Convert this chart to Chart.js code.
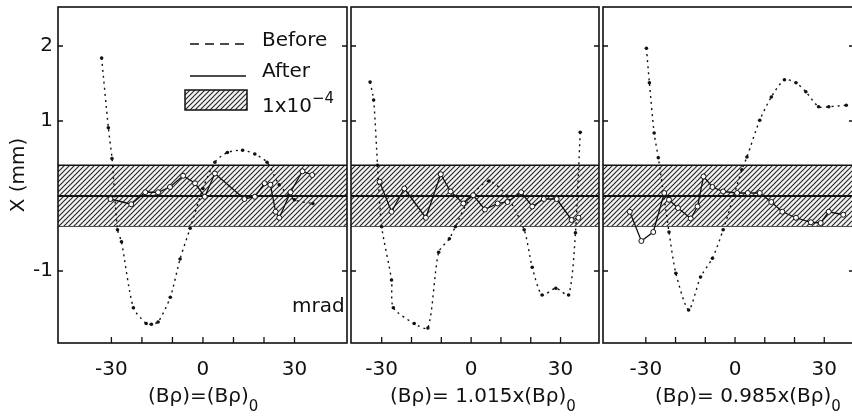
<!DOCTYPE html>
<html>
<head>
<meta charset="utf-8">
<script src="https://cdn.jsdelivr.net/npm/chart.js@4.4.1/dist/chart.umd.min.js"></script>
<style>
  html, body { margin: 0; padding: 0; background: #fff; }
  body { width: 852px; height: 419px; position: relative; overflow: hidden;
         font-family: "DejaVu Sans", sans-serif; color: #111; }
  canvas { position: absolute; top: 0; }
  .lbl { position: absolute; font-size: 20px; line-height: 20px; white-space: nowrap; }
  .lbl sub { font-size: 15px; vertical-align: -9px; line-height: 0; }
  .lbl sup { font-size: 15px; vertical-align: 9px; line-height: 0; }
</style>
</head>
<body>
<canvas id="p1" width="352" height="419" style="left:0px"></canvas>
<canvas id="p2" width="258" height="419" style="left:346px"></canvas>
<canvas id="p3" width="261" height="419" style="left:598px"></canvas>

<div class="lbl" style="left:262px; top:29px">Before</div>
<div class="lbl" style="left:262px; top:60px">After</div>
<div class="lbl" style="left:262px; top:95px">1x10<sup>−4</sup></div>
<div class="lbl" style="left:292px; top:295px">mrad</div>
<div class="lbl" style="left:148px; top:385px">(Bρ)=(Bρ)<sub>0</sub></div>
<div class="lbl" style="left:390px; top:385px">(Bρ)= 1.015x(Bρ)<sub>0</sub></div>
<div class="lbl" style="left:655px; top:385px">(Bρ)= 0.985x(Bρ)<sub>0</sub></div>

<script>
"use strict";

// ── Data ────────────────────────────────────────────────
const yRange = [-1.96, 2.52];
const yTickVals = [-1, 1, 2];
const xTickLabelVals = [-30, 0, 30];
const xMinorTicks = [-30, -20, -10, 0, 10, 20, 30];
const bandLimits = [-0.40, 0.41];   // 1x10^-4 band
const panelRanges = [[-47.5, 47.2], [-40.3, 42.9], [-44.4, 40.0]];

// (Bρ) = (Bρ)0
const p1BeforeX = [-33.2, -31, -29.8, -28, -26.7, -22.8, -18.6, -16.9, -14.7, -10.7, -7.5, -4.2, 0, 3.9, 8, 13, 17, 21, 25, 30, 36];
const p1BeforeY = [1.84, 0.91, 0.5, -0.45, -0.61, -1.49, -1.70, -1.71, -1.68, -1.35, -0.84, -0.43, 0.1, 0.45, 0.58, 0.61, 0.56, 0.45, 0.15, -0.05, -0.1];
const p1AfterX = [-30.3, -23.5, -18.9, -14.7, -10.8, -6.5, -2.6, 0.6, 3.9, 13.6, 17, 20.2, 22.1, 23.8, 25, 28.7, 32.6, 35.8];
const p1AfterY = [-0.04, -0.11, 0.05, 0.05, 0.12, 0.27, 0.17, -0.01, 0.30, -0.04, -0.01, 0.17, 0.15, -0.21, -0.29, 0.05, 0.33, 0.28];

// (Bρ) = 1.015 x (Bρ)0
const p2BeforeX = [-33.9, -32.7, -31.4, -30, -26.7, -26.1, -19.1, -14.5, -10.9, -7.3, -5.3, 0, 6, 12, 17.8, 20.5, 23.8, 28.4, 32.7, 35, 36.6];
const p2BeforeY = [1.52, 1.28, 0.41, -0.41, -1.12, -1.49, -1.70, -1.76, -0.75, -0.57, -0.41, 0.0, 0.2, 0.0, -0.45, -0.95, -1.32, -1.23, -1.32, -0.49, 0.85];
const p2AfterX = [-30.7, -26.7, -22.4, -15.2, -10.2, -6.9, -2.6, 0.7, 4.6, 8.9, 12.2, 16.8, 20.5, 24.4, 28.7, 33.7, 36];
const p2AfterY = [0.19, -0.21, 0.1, -0.29, 0.29, 0.06, -0.1, 0.01, -0.18, -0.1, -0.08, 0.05, -0.14, -0.04, -0.04, -0.32, -0.29];

// (Bρ) = 0.985 x (Bρ)0
const p3BeforeX = [-29.8, -28.8, -27.2, -25.8, -22.2, -19.9, -15.6, -11.6, -7.6, -4.0, 2.3, 4.0, 8.3, 12.2, 16.6, 20.5, 23.8, 28.1, 31.5, 37.4];
const p3BeforeY = [1.97, 1.51, 0.84, 0.51, -0.48, -1.03, -1.52, -1.08, -0.83, -0.45, 0.35, 0.52, 1.01, 1.32, 1.55, 1.51, 1.39, 1.19, 1.19, 1.21];
const p3AfterX = [-35.4, -31.5, -27.5, -23.8, -22.2, -19.2, -14.9, -12.6, -10.6, -7.6, -4.0, 0.7, 4.3, 8.3, 12.2, 15.9, 20.5, 25.5, 28.8, 31.5, 36.4];
const p3AfterY = [-0.21, -0.6, -0.48, 0.04, -0.05, -0.16, -0.3, -0.14, 0.26, 0.12, 0.06, 0.04, 0.04, 0.04, -0.08, -0.21, -0.29, -0.35, -0.36, -0.21, -0.25];

// ── Helpers ─────────────────────────────────────────────
const FONT = "'DejaVu Sans', sans-serif";
const INK = "#111";

function makeHatch() {
  const n = 5;
  const t = document.createElement("canvas");
  t.width = n; t.height = n;
  const g = t.getContext("2d");
  g.fillStyle = "#f4f4f4";
  g.fillRect(0, 0, n, n);
  g.strokeStyle = "#2a2a2a";
  g.lineWidth = 1.2;
  g.beginPath();
  g.moveTo(-1, n + 1); g.lineTo(n + 1, -1);
  g.moveTo(-1, 1); g.lineTo(1, -1);
  g.moveTo(n - 1, n + 1); g.lineTo(n + 1, n - 1);
  g.stroke();
  return g.createPattern(t, "repeat");
}
const hatch = makeHatch();

const toPts = (xs, ys) => xs.map((x, i) => ({ x, y: ys[i] }));

// frame + inward tick marks
const framePlugin = {
  id: "frame",
  afterDatasetsDraw(chart) {
    const { ctx, chartArea: a, scales } = chart;
    ctx.save();
    ctx.strokeStyle = INK;
    ctx.lineWidth = 1.6;
    ctx.strokeRect(a.left, a.top, a.right - a.left, a.bottom - a.top);
    ctx.lineWidth = 1.3;
    ctx.beginPath();
    xMinorTicks.forEach((v) => {
      const px = scales.x.getPixelForValue(v);
      ctx.moveTo(px, a.bottom);
      ctx.lineTo(px, a.bottom - 6);
    });
    yTickVals.forEach((v) => {
      const py = scales.y.getPixelForValue(v);
      ctx.moveTo(a.left, py); ctx.lineTo(a.left + 5, py);
      ctx.moveTo(a.right, py); ctx.lineTo(a.right - 5, py);
    });
    ctx.stroke();
    ctx.restore();
  },
};

// legend symbols (first panel only)
const legendPlugin = {
  id: "legendSymbols",
  afterDraw(chart) {
    const ctx = chart.ctx;
    ctx.save();
    ctx.strokeStyle = INK;
    ctx.lineWidth = 1.5;
    ctx.setLineDash([9, 6]);
    ctx.beginPath(); ctx.moveTo(190, 44); ctx.lineTo(246, 44); ctx.stroke();
    ctx.setLineDash([]);
    ctx.beginPath(); ctx.moveTo(190, 76); ctx.lineTo(246, 76); ctx.stroke();
    ctx.fillStyle = hatch;
    ctx.fillRect(185, 90, 62, 20);
    ctx.lineWidth = 1.5;
    ctx.strokeRect(185, 90, 62, 20);
    ctx.restore();
  },
};

function buildPanel(id, range, beforeX, beforeY, afterX, afterY, opts) {
  const [xmin, xmax] = range;
  const flat = (v) => [{ x: xmin, y: v }, { x: xmax, y: v }];
  return new Chart(document.getElementById(id), {
    type: "line",
    data: {
      datasets: [
        {
          label: "After",
          data: toPts(afterX, afterY),
          borderColor: INK,
          borderWidth: 1.3,
          pointRadius: 2.5,
          pointBackgroundColor: "#fff",
          pointBorderColor: INK,
          pointBorderWidth: 1,
          tension: 0,
        },
        {
          label: "Before",
          data: toPts(beforeX, beforeY),
          borderColor: INK,
          borderWidth: 1.4,
          borderDash: [2, 4],
          pointRadius: 1.8,
          pointBackgroundColor: INK,
          pointBorderWidth: 0,
          tension: 0.25,
        },
        {
          label: "center",
          data: flat(0),
          borderColor: INK,
          borderWidth: 2.2,
          pointRadius: 0,
        },
        {
          label: "bandHi",
          data: flat(bandLimits[1]),
          borderColor: INK,
          borderWidth: 1.6,
          pointRadius: 0,
          fill: "+1",
          backgroundColor: hatch,
        },
        {
          label: "bandLo",
          data: flat(bandLimits[0]),
          borderColor: INK,
          borderWidth: 1.6,
          pointRadius: 0,
        },
      ],
    },
    options: {
      responsive: false,
      animation: false,
      layout: { padding: opts.padding },
      plugins: { legend: { display: false }, tooltip: { enabled: false } },
      scales: {
        x: {
          type: "linear",
          min: xmin,
          max: xmax,
          grid: { display: false },
          border: { display: false },
          afterBuildTicks: (s) => { s.ticks = xTickLabelVals.map((v) => ({ value: v })); },
          afterFit: (s) => { s.height = 76; s.paddingLeft = 0; s.paddingRight = 0; },
          ticks: { color: INK, font: { family: FONT, size: 20 }, padding: 7, maxRotation: 0 },
        },
        y: {
          type: "linear",
          min: yRange[0],
          max: yRange[1],
          display: opts.showY,
          grid: { display: false, drawTicks: false },
          border: { display: false },
          afterBuildTicks: (s) => { s.ticks = yTickVals.map((v) => ({ value: v })); },
          afterFit: (s) => { s.width = opts.showY ? 58 : 0; s.paddingTop = 0; s.paddingBottom = 0; },
          ticks: { color: INK, font: { family: FONT, size: 20 }, padding: 5 },
          title: {
            display: opts.showY,
            text: "X (mm)",
            color: INK,
            font: { family: FONT, size: 20 },
            padding: { top: 7, bottom: 0 },
          },
        },
      },
    },
    plugins: opts.legend ? [framePlugin, legendPlugin] : [framePlugin],
  });
}

buildPanel("p1", panelRanges[0], p1BeforeX, p1BeforeY, p1AfterX, p1AfterY,
  { padding: { left: 0, right: 3, top: 7, bottom: 0 }, showY: true, legend: true });
buildPanel("p2", panelRanges[1], p2BeforeX, p2BeforeY, p2AfterX, p2AfterY,
  { padding: { left: 3, right: 3, top: 7, bottom: 0 }, showY: false, legend: false });
buildPanel("p3", panelRanges[2], p3BeforeX, p3BeforeY, p3AfterX, p3AfterY,
  { padding: { left: 3, right: 3, top: 7, bottom: 0 }, showY: false, legend: false });
</script>
</body>
</html>
